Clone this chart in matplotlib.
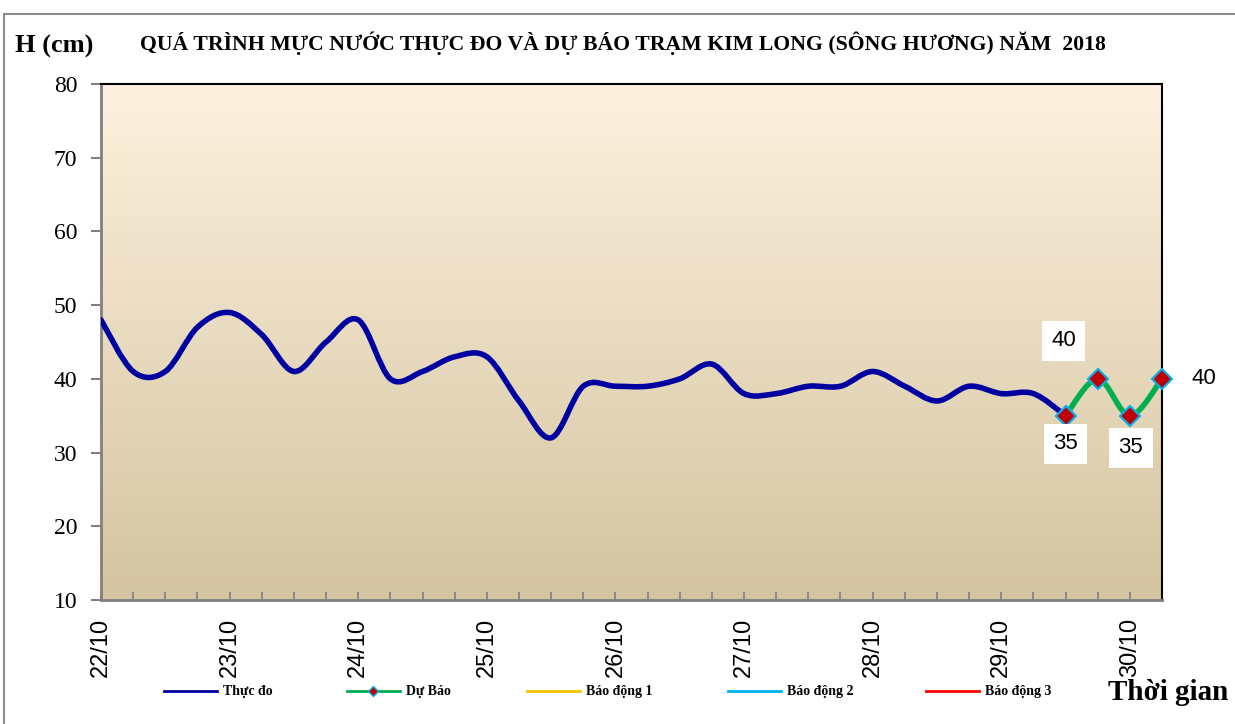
import numpy as np
import matplotlib
matplotlib.use("Agg")
import matplotlib.pyplot as plt
from matplotlib.path import Path
from matplotlib.patches import PathPatch, Rectangle
from matplotlib.lines import Line2D

# ---------------- data ----------------
day_labels = ["22/10", "23/10", "24/10", "25/10", "26/10", "27/10", "28/10", "29/10", "30/10"]
steps_per_day = 4  # 6-hourly observations
observed = [48, 41, 41, 47, 49, 46, 41, 45, 48, 40, 41, 43, 43, 37, 32, 39,
            39, 39, 40, 42, 38, 38, 39, 39, 41, 39, 37, 39, 38, 38, 35]
forecast = [35, 40, 35, 40]
forecast_start = 30
legend_labels = ["Thực đo", "Dự Báo", "Báo động 1", "Báo động 2", "Báo động 3"]
legend_colors = ["#0000A0", "#00B050", "#FFC000", "#00B0F0", "#FF0000"]
title = "QUÁ TRÌNH MỰC NƯỚC THỰC ĐO VÀ DỰ BÁO TRẠM KIM LONG (SÔNG HƯƠNG) NĂM  2018"
y_label = "H (cm)"
x_label = "Thời gian"

SERIF = ["Liberation Serif", "DejaVu Serif"]
SANS = ["Liberation Sans", "DejaVu Sans"]

W, H = 1235, 724
fig = plt.figure(figsize=(W / 100, H / 100), dpi=100)
fig.patch.set_facecolor("white")

# outer chart border
fig.add_artist(Rectangle((4 / W, -0.01), 1.2, 1 - 14 / H + 0.01, transform=fig.transFigure,
                         fill=False, edgecolor="#8C8C8C", linewidth=1.5))

left, right, top, bottom = 101, 1162, 84, 600
ax = fig.add_axes([left / W, 1 - bottom / H, (right - left) / W, (bottom - top) / H])

n_total = forecast_start + len(forecast)  # 34 points, indices 0..33
ax.set_xlim(0, n_total - 1)
ax.set_ylim(10, 80)

# gradient background
grad = np.linspace(0, 1, 256)[:, None]
c_top = np.array([253, 241, 222]) / 255
c_bot = np.array([212, 196, 160]) / 255
img = c_top[None, None, :] * (1 - grad[:, :, None]) + c_bot[None, None, :] * grad[:, :, None]
ax.imshow(img, extent=[0, n_total - 1, 10, 80], aspect="auto", origin="upper", zorder=0)


def smooth_path(xs, ys):
    pts = np.column_stack([xs, ys]).astype(float)
    n = len(pts)
    verts = [pts[0]]
    codes = [Path.MOVETO]
    for i in range(n - 1):
        p0 = pts[i - 1] if i > 0 else pts[i]
        p1 = pts[i]
        p2 = pts[i + 1]
        p3 = pts[i + 2] if i + 2 < n else pts[i + 1]
        c1 = p1 + (p2 - p0) / 6.0
        c2 = p2 - (p3 - p1) / 6.0
        verts += [c1, c2, p2]
        codes += [Path.CURVE4] * 3
    return Path(verts, codes)


obs_x = np.arange(len(observed))
ax.add_patch(PathPatch(smooth_path(obs_x, observed), fill=False, edgecolor=legend_colors[0],
                       linewidth=4, capstyle="round", joinstyle="round", zorder=3))

fc_x = np.arange(forecast_start, forecast_start + len(forecast))
ax.add_patch(PathPatch(smooth_path(fc_x, forecast), fill=False, edgecolor=legend_colors[1],
                       linewidth=4, capstyle="round", joinstyle="round", zorder=3))
ax.plot(fc_x, forecast, linestyle="none", marker="D", markersize=10,
        markerfacecolor="#C00000", markeredgecolor="#00B0F0", markeredgewidth=1.5,
        zorder=5, clip_on=False)

# data labels
bbox = dict(boxstyle="square,pad=0.42", facecolor="white", edgecolor="none")
label_offsets = [(0, -28), (-34, 38), (1, -32), (42, 0)]
for x, v, (dx, dy) in zip(fc_x, forecast, label_offsets):
    ax.annotate(f"{v}", (x, v), xytext=(dx, dy), textcoords="offset pixels",
                ha="center", va="center", fontsize=16, family=SANS, bbox=bbox,
                zorder=6, annotation_clip=False)

# spines
for s in ["left", "bottom"]:
    ax.spines[s].set_color("#808080")
    ax.spines[s].set_linewidth(2)
for s in ["top", "right"]:
    ax.spines[s].set_color("black")
    ax.spines[s].set_linewidth(1.5)

# ticks
ax.set_yticks(np.arange(10, 81, 10))
ax.set_yticklabels([str(v) for v in range(10, 81, 10)], fontsize=17, family=SERIF)
ax.tick_params(axis="y", direction="out", length=7, width=1.5, color="#808080", pad=10)

ax.set_xticks(np.arange(0, n_total - 1, 1), minor=True)
ax.set_xticks(np.arange(0, len(day_labels) * steps_per_day, steps_per_day))
ax.set_xticklabels(day_labels, rotation=90, fontsize=17, family=SANS)
ax.tick_params(axis="x", which="both", direction="in", length=6, width=1.2, color="#808080", pad=13)

# titles
fig.text(15 / W, 1 - 46 / H, y_label, fontsize=19, fontweight="bold", family=SERIF,
         ha="left", va="center")
fig.text(623 / W, 1 - 43 / H, title, fontsize=15.7, fontweight="bold", family=SERIF,
         ha="center", va="center")
fig.text(1168 / W, 1 - 692 / H, x_label, fontsize=21, fontweight="bold", family=SERIF,
         ha="center", va="center")

# legend: one entry per position, as in the reference
handles = [
    Line2D([], [], color=legend_colors[0], linewidth=2),
    Line2D([], [], color=legend_colors[1], linewidth=2, marker="D", markersize=5,
           markerfacecolor="#C00000", markeredgecolor="#00B0F0"),
    Line2D([], [], color=legend_colors[2], linewidth=2),
    Line2D([], [], color=legend_colors[3], linewidth=2),
    Line2D([], [], color=legend_colors[4], linewidth=2),
]
legend_x = [164, 347, 527, 728, 926]
for h, lab, lx in zip(handles, legend_labels, legend_x):
    fig.legend([h], [lab], loc="center left", bbox_to_anchor=(lx / W, 1 - 692 / H),
               frameon=False, handlelength=3.8, handletextpad=0.45, borderpad=0,
               borderaxespad=0, prop={"family": SERIF, "weight": "bold", "size": 10})

fig.savefig("out.png", dpi=100)
